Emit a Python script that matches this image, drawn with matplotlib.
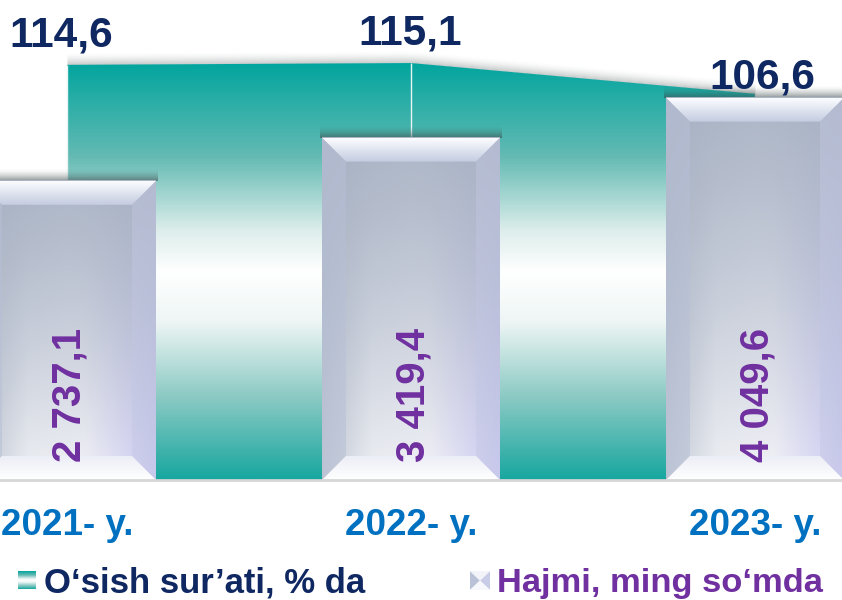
import numpy as np
import matplotlib
matplotlib.use('Agg')
import matplotlib.pyplot as plt
from matplotlib.colors import LinearSegmentedColormap, to_rgb
from matplotlib.patches import Polygon
from matplotlib import font_manager as fm

# ---------------- data ----------------
years = ["2021- y.", "2022- y.", "2023- y."]
growth = [114.6, 115.1, 106.6]            # O‘sish sur’ati, % da
volume = [2737.1, 3419.4, 4049.6]         # Hajmi, ming so‘mda
growth_labels = ["114,6", "115,1", "106,6"]
volume_labels = ["2 737,1", "3 419,4", "4 049,6"]
legend_labels = ["O‘sish sur’ati, % da", "Hajmi, ming so‘mda"]

# ---------------- fonts ----------------
def has_font(name):
    try:
        fm.findfont(fm.FontProperties(family=name), fallback_to_default=False)
        return True
    except Exception:
        return False

HAS_NARROW = has_font('Liberation Sans Narrow')
NARROW = (['Liberation Sans Narrow'] if HAS_NARROW else []) + ['Liberation Sans', 'DejaVu Sans']
WIDE = ['Liberation Sans', 'DejaVu Sans']

NAVY = '#0f2862'
BLUE = '#0070c0'
PURPLE = '#7030a0'

W, H, DPI = 842, 600, 100
fig = plt.figure(figsize=(W / DPI, H / DPI), dpi=DPI)
fig.patch.set_facecolor('white')

AX_BOTTOM_PX = 480
ax1 = fig.add_axes([0, (H - AX_BOTTOM_PX) / H, 1, AX_BOTTOM_PX / H])
ax2 = ax1.twinx()

x = np.arange(len(years))
XLIM = (-67 / 344, 2 + 87 / 344)
Y1LIM = (0, 132.5)
Y2LIM = (-1983, 5590)

def fix_limits():
    ax1.set_xlim(*XLIM)
    ax1.set_ylim(*Y1LIM)
    ax2.set_ylim(*Y2LIM)

fix_limits()
px_x = (XLIM[1] - XLIM[0]) / W
px_y1 = (Y1LIM[1] - Y1LIM[0]) / AX_BOTTOM_PX
px_y2 = (Y2LIM[1] - Y2LIM[0]) / AX_BOTTOM_PX

# ---------------- area (growth) ----------------
teal_cmap = LinearSegmentedColormap.from_list(
    'teal', [(0.0, '#02a59e'), (0.22, '#62bab3'), (0.40, '#dcedeb'),
             (0.50, '#ffffff'), (0.62, '#eef6f5'), (0.80, '#8ccac4'),
             (1.0, '#17a79f')])
area = ax1.fill_between(x, 0, growth, facecolor='none', edgecolor='none')
grad = np.linspace(0, 1, 256).reshape(-1, 1)
im = ax1.imshow(grad, extent=[x[0], x[-1], 0, max(growth)], aspect='auto',
                cmap=teal_cmap, origin='upper', zorder=1, interpolation='bilinear')
im.set_clip_path(area.get_paths()[0], ax1.transData)

# soft shadow above the area edge
n_sh = 12
for i in range(n_sh):
    a = 0.32 * (1 - i / n_sh) ** 1.6
    ax1.fill_between(x, np.array(growth) + i * px_y1, np.array(growth) + (i + 1) * px_y1,
                     color='#4a5555', alpha=a, lw=0, antialiased=False, zorder=0.9)

# drop line
ax1.vlines(x, 0, growth, color='#e9f5f4', lw=1.0, zorder=1.2)

# ---------------- bars (volume) ----------------
bar_w = 178 / 344
vol = np.array(volume)
bars = ax2.bar(x, vol - Y2LIM[0], bottom=Y2LIM[0], width=bar_w,
               color='none', edgecolor='none', zorder=2)

def hex3(c):
    return np.array(to_rgb(c))

Hh, Ww = 240, 120
v = np.linspace(0, 1, Hh)[:, None, None]
def prof(stops, cols):
    cs = np.array([hex3(c) for c in cols])
    uu = np.linspace(0, 1, Ww)
    return np.stack([np.interp(uu, stops, cs[:, k]) for k in range(3)], axis=-1)[None, :, :]
top_c = prof([0, 0.5, 1], ['#a8b1c3', '#aeb7c8', '#a9b2c4'])
bot_c = prof([0, 0.28, 0.6, 1], ['#c2c8d4', '#eef0f4', '#f3f3f8', '#cdcaf6'])
wv = v ** 1.3
body = np.clip(top_c * (1 - wv) + bot_c * wv, 0, 1)

dpx = 24
dx, dy = dpx * px_x, dpx * px_y2
topgrad = np.linspace(0, 1, 64)[:, None, None]
top_bevel_img = hex3('#fbfcff') * (1 - topgrad) + hex3('#c4cce0') * topgrad
bot_bevel_img = hex3('#eceef6') * (1 - topgrad) + hex3('#ffffff') * topgrad

for b in bars:
    x0 = b.get_x(); x1 = x0 + b.get_width()
    y0 = b.get_y(); y1 = y0 + b.get_height()
    for i in range(n_sh):
        a = 0.55 * (1 - i / n_sh) ** 1.6
        ax2.fill_between([x0 - 2 * px_x, x1 + 2 * px_x], y1 + i * px_y2, y1 + (i + 1) * px_y2,
                         color='#384545', alpha=a, lw=0, antialiased=False, zorder=1.8)
    ax2.imshow(body, extent=[x0, x1, y0, y1], aspect='auto', origin='upper',
               zorder=2, interpolation='bilinear')
    ptop = Polygon([(x0, y1), (x1, y1), (x1 - dx, y1 - dy), (x0 + dx, y1 - dy)],
                   closed=True, transform=ax2.transData)
    it = ax2.imshow(top_bevel_img, extent=[x0, x1, y1 - dy, y1], aspect='auto',
                    origin='upper', zorder=2.2, interpolation='bilinear')
    it.set_clip_path(ptop)
    pbot = Polygon([(x0, y0), (x1, y0), (x1 - dx, y0 + dy), (x0 + dx, y0 + dy)],
                   closed=True, transform=ax2.transData)
    ib = ax2.imshow(bot_bevel_img, extent=[x0, x1, y0, y0 + dy], aspect='auto',
                    origin='upper', zorder=2.2, interpolation='bilinear')
    ib.set_clip_path(pbot)
    ax2.add_patch(Polygon([(x0, y1), (x0 + dx, y1 - dy), (x0 + dx, y0 + dy), (x0, y0)],
                          closed=True, facecolor='#b7c0d6', alpha=0.55, lw=0, zorder=2.1))
    ax2.add_patch(Polygon([(x1, y1), (x1, y0), (x1 - dx, y0 + dy), (x1 - dx, y1 - dy)],
                          closed=True, facecolor='#c3c8e2', alpha=0.45, lw=0, zorder=2.1))

fix_limits()

# ---------------- labels ----------------
g_size = 34 if HAS_NARROW else 30.5
growth_offsets = [(-4.5, 13.5), (-0.5, 13), (5, 3.5)]
for xi, g, lab, off in zip(x, growth, growth_labels, growth_offsets):
    ax2.annotate(lab, xy=(xi, g), xycoords=ax1.transData, xytext=off,
                 textcoords='offset points', ha='center', va='baseline',
                 fontsize=g_size, fontweight='bold', color=NAVY, family=NARROW,
                 zorder=5, annotation_clip=False)

for xi, lab in zip(x, volume_labels):
    ax2.annotate(lab, xy=(xi, Y2LIM[0]), xytext=(2, 13), textcoords='offset points',
                 rotation=90, ha='center', va='bottom', fontsize=29,
                 fontweight='bold', color=PURPLE, family=WIDE, zorder=5)

ax1.set_xticks(x)
ax1.set_xticklabels(years, fontsize=(30 if HAS_NARROW else 26.5), fontweight='bold',
                    color=BLUE, family=NARROW)
ax1.tick_params(axis='x', length=0, pad=20.5)
ax1.set_yticks([])
ax2.set_yticks([])
for ax in (ax1, ax2):
    for s in ax.spines.values():
        s.set_visible(False)
ax2.spines['bottom'].set_visible(True)
ax2.spines['bottom'].set_color('#d6d6d6')
ax2.spines['bottom'].set_linewidth(2)
ax2.spines['bottom'].set_zorder(6)

# ---------------- legend ----------------
lax1 = fig.add_axes([18 / W, (H - 589) / H, 18 / W, 18 / H])
lax1.imshow(grad, aspect='auto', cmap=teal_cmap, origin='upper', extent=[0, 1, 0, 1])
lax1.set_axis_off()
lax2 = fig.add_axes([470 / W, (H - 590) / H, 20 / W, 19 / H])
lax2.set_xlim(0, 1); lax2.set_ylim(0, 1)
lax2.add_patch(Polygon([(0, 0), (0.5, 0.5), (0, 1)], facecolor='#b9c2d6', lw=0))
lax2.add_patch(Polygon([(1, 0), (0.5, 0.5), (1, 1)], facecolor='#c8cce6', lw=0))
lax2.add_patch(Polygon([(0, 1), (1, 1), (0.5, 0.5)], facecolor='#f2f4fa', lw=0))
lax2.add_patch(Polygon([(0, 0), (1, 0), (0.5, 0.5)], facecolor='#f7f8fc', lw=0))
lax2.set_axis_off()

fig.text(44 / W, (H - 592) / H, legend_labels[0], ha='left', va='baseline',
         fontsize=25, fontweight='bold', color=NAVY, family=WIDE)
fig.text(497 / W, (H - 592) / H, legend_labels[1], ha='left', va='baseline',
         fontsize=24.8, fontweight='bold', color=PURPLE, family=WIDE)

fig.savefig('out.png', dpi=DPI, facecolor='white')
